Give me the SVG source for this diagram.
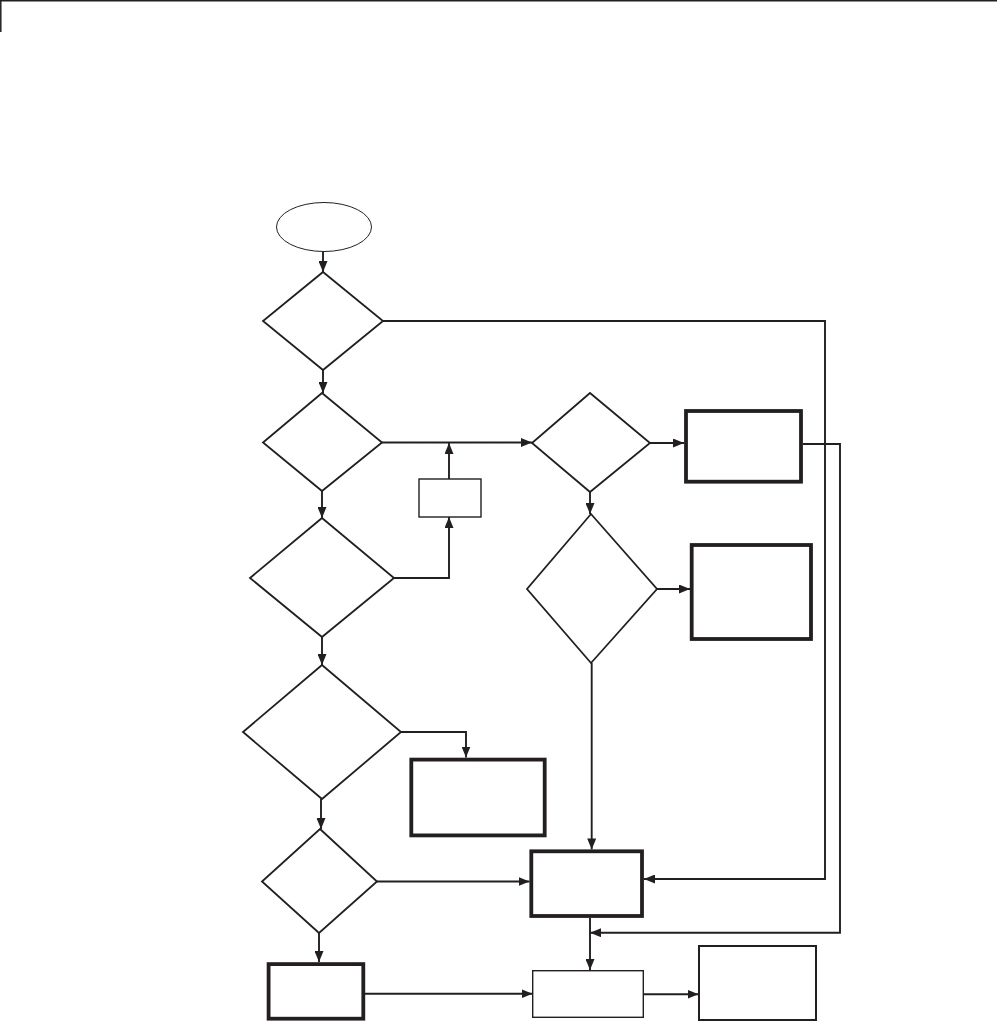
<svg xmlns="http://www.w3.org/2000/svg" width="997" height="1022" viewBox="0 0 997 1022">
<style>
.frame{fill:none;stroke:#231f20;stroke-width:1.5}
.dia{fill:#fff;stroke:#231f20;stroke-width:1.8;stroke-linejoin:miter}
.thick{fill:#fff;stroke:#231f20;stroke-width:3.8}
.thin{fill:#fff;stroke:#231f20;stroke-width:1.4}
.mid{fill:#fff;stroke:#231f20;stroke-width:2}
.term{fill:#fff;stroke:#231f20;stroke-width:1}
.c{fill:none;stroke:#231f20;stroke-width:1.9}
.a{marker-end:url(#ah)}
</style>
<defs>
<marker id="ah" viewBox="0 0 11 9" refX="11" refY="4.5" markerWidth="11" markerHeight="9" markerUnits="userSpaceOnUse" orient="auto">
<path d="M0,0 L11,4.5 L0,9 z" fill="#231f20"/>
</marker>
</defs>
<rect width="997" height="1022" fill="#fff"/>
<g id="frame">
<path class="frame" d="M0,0.8 H997 M0.8,0 V32"/>
</g>
<g id="connectors">
<path class="c a" d="M323,252 V272"/>
<path class="c a" d="M323,370 V393"/>
<path class="c a" d="M382,442.5 H532"/>
<path class="c a" d="M449,479 V443"/>
<path class="c a" d="M322,491 V518"/>
<path class="c a" d="M394,578 H449 V517"/>
<path class="c a" d="M322,637 V665"/>
<path class="c a" d="M401,732 H466 V757.5"/>
<path class="c a" d="M321,799 V829"/>
<path class="c a" d="M377,881.5 H529.5"/>
<path class="c a" d="M319,933 V962"/>
<path class="c a" d="M365,993.7 H532.5"/>
<path class="c a" d="M643.3,994.3 H698.5"/>
<path class="c a" d="M650,443 H684"/>
<path class="c a" d="M590,492 V514"/>
<path class="c a" d="M657,589 H690"/>
<path class="c a" d="M591.7,663 V849.4"/>
<path class="c a" d="M590,918 V970"/>
<path class="c a" d="M383,321 H825 V879 H644"/>
<path class="c a" d="M803,444 H840 V932.7 H590"/>
</g>
<g id="start"><ellipse class="term" cx="324" cy="227" rx="47.5" ry="24.5"/></g>
<g id="decision1"><polygon class="dia" points="323,272 383,321 323,370 263,321"/></g>
<g id="decision2"><polygon class="dia" points="322,393 382,442.5 322,491 263,442.5"/></g>
<g id="smallbox"><rect class="thin" x="419" y="479" width="62" height="38"/></g>
<g id="decision3"><polygon class="dia" points="322,518 394,578 322,637 250,578"/></g>
<g id="decision4"><polygon class="dia" points="322,665 401,732 322,799 243,732"/></g>
<g id="boxD"><rect class="thick" x="411.3" y="759.6" width="133.4" height="75.8"/></g>
<g id="decision6"><polygon class="dia" points="320,829 377,881.5 319,933 262,881.5"/></g>
<g id="boxE"><rect class="thick" x="268.6" y="964.1" width="94.7" height="54.6"/></g>
<g id="boxF"><rect class="thin" x="532.7" y="970.7" width="110.6" height="46.6"/></g>
<g id="boxG"><rect class="mid" x="699" y="946" width="117" height="74"/></g>
<g id="boxC"><rect class="thick" x="531.3" y="851.3" width="110.7" height="64.7"/></g>
<g id="decisionR1"><polygon class="dia" points="590,393 650,443 590,492 532,443"/></g>
<g id="boxA"><rect class="thick" x="686" y="411" width="115" height="70.7"/></g>
<g id="decisionR2"><polygon class="dia" points="591,514 657,589 591,663 527,589"/></g>
<g id="boxB"><rect class="thick" x="691.7" y="545" width="119.3" height="94"/></g>
</svg>
